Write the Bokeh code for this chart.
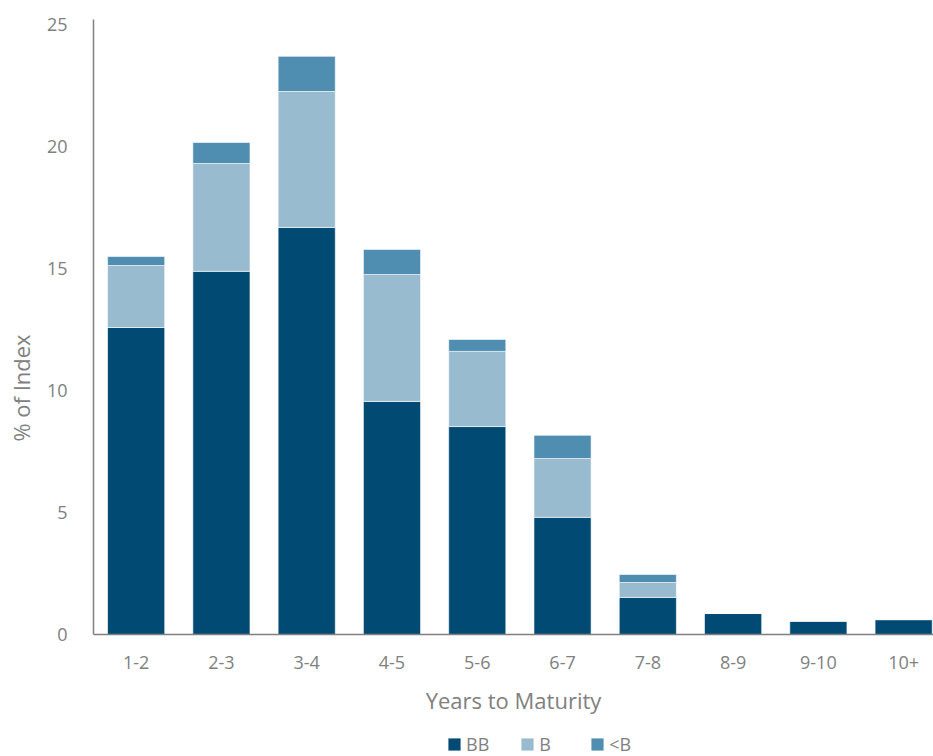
from bokeh.plotting import figure
from bokeh.models import Range1d, FixedTicker, Legend, LegendItem
from bokeh.embed import file_html
from bokeh.resources import INLINE

categories = ["1-2", "2-3", "3-4", "4-5", "5-6", "6-7", "7-8", "8-9", "9-10", "10+"]
bb = [12.58, 14.88, 16.68, 9.55, 8.52, 4.80, 1.52, 0.86, 0.55, 0.61]
b = [2.54, 4.42, 5.57, 5.20, 3.08, 2.41, 0.61, 0.0, 0.0, 0.0]
lt_b = [0.37, 0.86, 1.44, 1.03, 0.49, 0.95, 0.33, 0.0, 0.0, 0.0]
series = ["BB", "B", "<B"]
colors = ["#004A74", "#98BBD0", "#4F8EB0"]

FONT = "Open Sans"
GRAY = "#808080"

xs = list(range(len(categories)))
data = {"x": xs, "BB": bb, "B": b, "<B": lt_b}

p = figure(width=933, height=756, output_backend="svg", toolbar_location=None,
           x_range=Range1d(-0.5, len(categories) - 0.65), y_range=Range1d(-5.0, 25.2))
p.min_border_left = 93
p.min_border_top = 19
p.min_border_right = 0
p.min_border_bottom = 0
p.outline_line_color = None
p.xgrid.visible = False
p.ygrid.visible = False
p.background_fill_color = "white"
p.border_fill_color = "white"

renderers = p.vbar_stack(series, x="x", width=0.67, source=data, color=colors,
                         line_color="white", line_width=0.6)

p.yaxis.ticker = FixedTicker(ticks=[0, 5, 10, 15, 20, 25])
p.yaxis.bounds = (0, 25.2)
p.xaxis.ticker = FixedTicker(ticks=xs)
p.xaxis.major_label_overrides = {i: c for i, c in enumerate(categories)}
p.xaxis.fixed_location = 0

for ax in (p.xaxis[0], p.yaxis[0]):
    ax.axis_line_color = GRAY
    ax.axis_line_width = 1.5
    ax.major_tick_line_color = None
    ax.minor_tick_line_color = None
    ax.major_label_text_color = GRAY
    ax.major_label_text_font = FONT
    ax.major_label_text_font_size = "18px"
    ax.axis_label_text_color = GRAY
    ax.axis_label_text_font = FONT
    ax.axis_label_text_font_size = "22px"
    ax.axis_label_text_font_style = "normal"

p.xaxis.axis_label = "Years to Maturity"
p.yaxis.axis_label = "% of Index"
p.xaxis.major_label_standoff = 16
p.xaxis.axis_label_standoff = 12
p.yaxis.major_label_standoff = 20
p.yaxis.axis_label_standoff = 8

legend = Legend(items=[LegendItem(label=s, renderers=[r]) for s, r in zip(series, renderers)],
                orientation="horizontal", location=(353, 0))
legend.label_text_font = FONT
legend.label_text_font_size = "18px"
legend.label_text_color = GRAY
legend.label_height = 18
legend.glyph_width = 16
legend.glyph_height = 16
legend.spacing = 30
legend.label_standoff = 4
legend.border_line_color = None
legend.background_fill_alpha = 0
legend.padding = 2
legend.margin = 0
p.add_layout(legend, "center")

open("out.html", "w").write(file_html(p, INLINE))
